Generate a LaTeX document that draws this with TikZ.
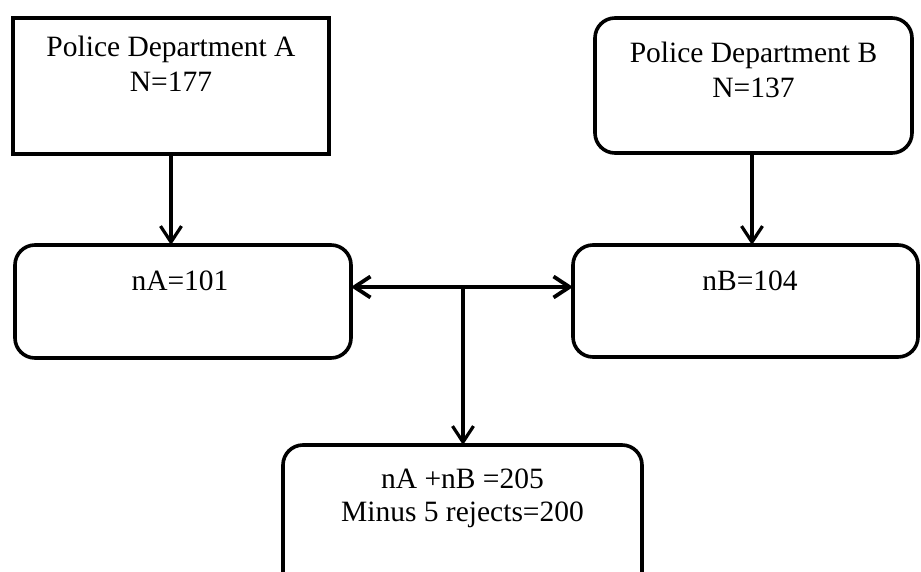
\documentclass[tikz,border=0pt]{standalone}
\usepackage{fontspec}
\setmainfont{Liberation Serif}
\usetikzlibrary{arrows.meta}
\tikzset{
  boxbase/.style={draw=black, line width=3.6pt, inner sep=0pt, outer sep=0pt, fill=white},
  sqbox/.style={boxbase},
  rbox/.style={boxbase, rounded corners=20pt},
  conn/.style={line width=3.2pt, -{Straight Barb[length=16pt,width=21pt]}},
  dconn/.style={line width=3.8pt, {Straight Barb[length=16pt,width=21pt]}-{Straight Barb[length=16pt,width=21pt]}},
}
\newcommand{\boxtext}[4]{\parbox[c][#2][t]{#1}{\centering\fontsize{29.5}{35}\selectfont\vspace*{#3}\strut #4}}
\begin{document}
\begin{tikzpicture}[x=1pt,y=-1pt]
\useasboundingbox (0,0) rectangle (921,572);
\clip (0,0) rectangle (921,572);
\node[sqbox, minimum width=316pt, minimum height=136pt] (A) at (171,86)
  {\boxtext{316pt}{136pt}{14.5pt}{Police Department A\\N=177}};
\node[rbox, minimum width=317pt, minimum height=135pt] (B) at (753.5,85.5)
  {\boxtext{317pt}{135pt}{20.5pt}{Police Department B\\N=137}};
\node[rbox, minimum width=336pt, minimum height=113pt] (nA) at (183,301.5)
  {\boxtext{336pt}{113pt}{20.5pt}{\hspace*{-6pt}nA=101}};
\node[rbox, minimum width=345pt, minimum height=112pt] (nB) at (745.5,301)
  {\boxtext{345pt}{112pt}{20.5pt}{\hspace*{9pt}nB=104}};
\node[rbox, minimum width=359pt, minimum height=150pt] (C) at (462.5,520)
  {\parbox[c][150pt][t]{359pt}{\centering\fontsize{29.5}{33}\selectfont\vspace*{20.5pt}\strut nA +nB =205\\Minus 5 rejects=200}};
\coordinate (j) at (463,287);
\draw[conn] (A.south -| 171,0) -- (nA.north -| 171,0);
\draw[conn] (B.south -| 752,0) -- (nB.north -| 752,0);
\draw[dconn] (nA.east |- j) -- (nB.west |- j);
\draw[conn] (j) -- (j |- C.north);
\end{tikzpicture}
\end{document}
